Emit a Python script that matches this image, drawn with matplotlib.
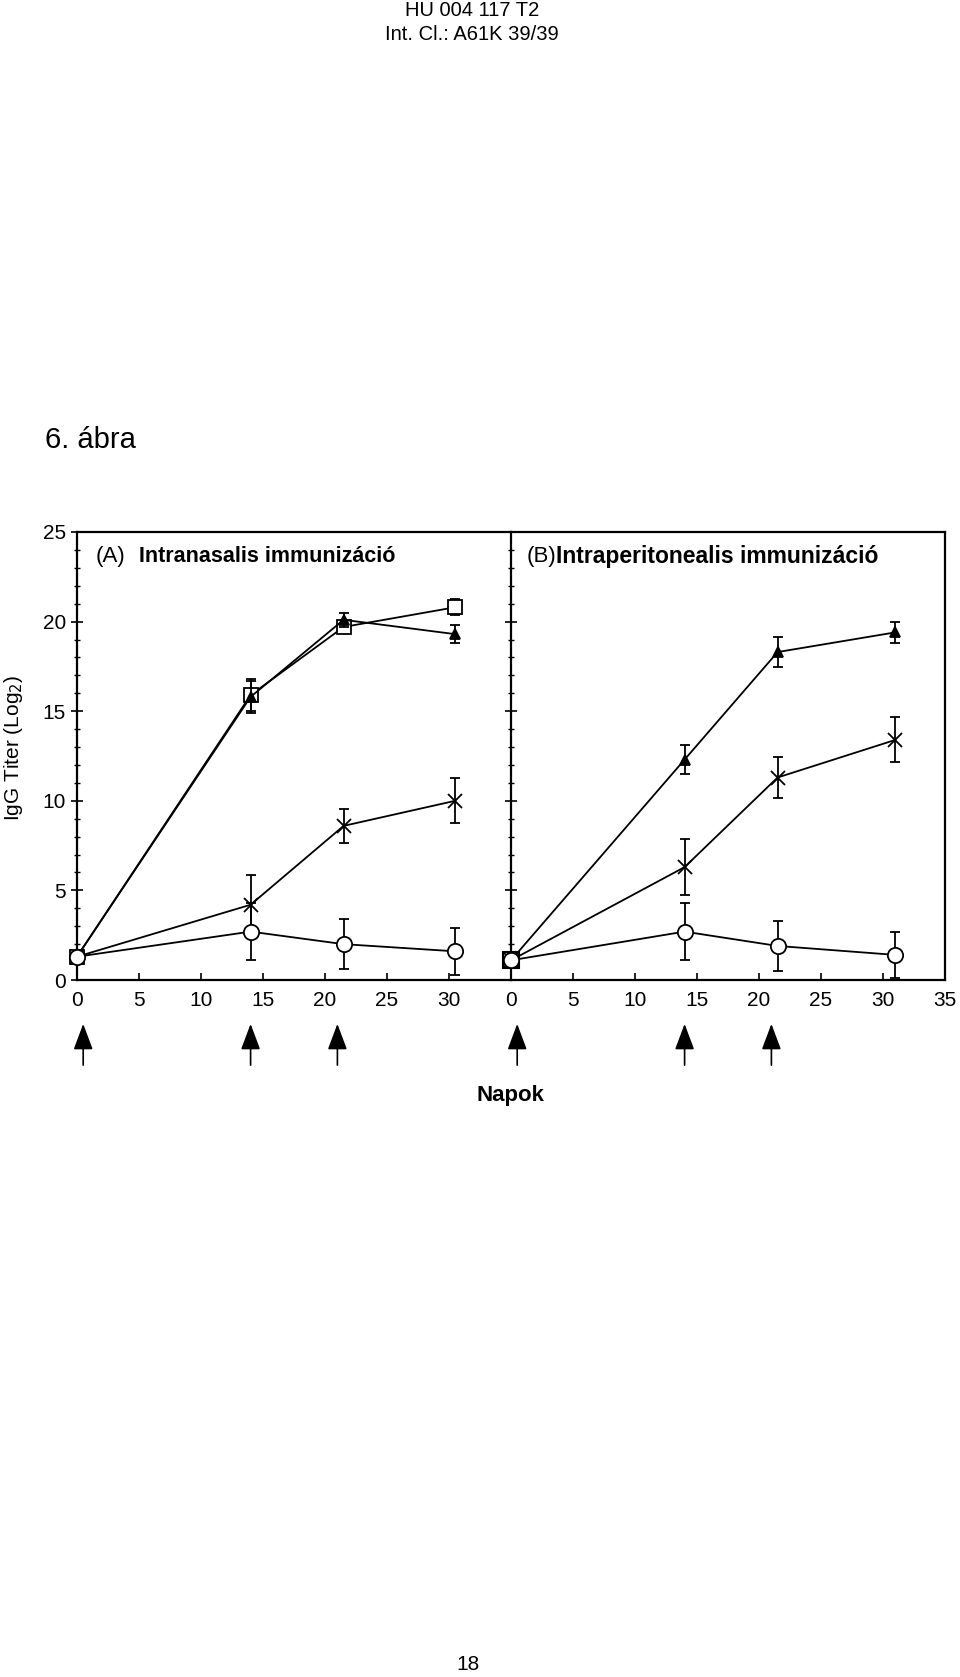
import numpy as np
import matplotlib.pyplot as plt
from matplotlib.ticker import MultipleLocator

plt.rcParams['font.family'] = ['Liberation Sans', 'DejaVu Sans']

# sampling days
days_a = [0, 14, 21.5, 30.5]
days_b = [0, 14, 21.5, 31]
booster_days = [0.5, 14, 21]

# (A) intranasal
tri_a = [1.3, 15.8, 20.1, 19.3]
tri_a_err = [0, 0.9, 0.4, 0.5]
sq_a = [1.3, 15.9, 19.7, 20.8]
sq_a_err = [0, 0.9, 0.3, 0.45]
x_a = [1.3, 4.2, 8.6, 10.0]
x_a_err = [0, 1.65, 0.95, 1.25]
circ_a = [1.3, 2.7, 2.0, 1.6]
circ_a_err = [0, 1.6, 1.4, 1.3]

# (B) intraperitoneal
tri_b = [1.1, 12.3, 18.3, 19.4]
tri_b_err = [0, 0.8, 0.85, 0.6]
sq_b = [1.1]
x_b = [1.1, 6.3, 11.3, 13.4]
x_b_err = [0, 1.55, 1.15, 1.25]
circ_b = [1.1, 2.7, 1.9, 1.4]
circ_b_err = [0, 1.6, 1.4, 1.3]

W, H = 960, 1677
fig = plt.figure(figsize=(W / 100, H / 100), dpi=100)

left, mid, right = 77, 511, 945
top, bottom = 532, 980
ax_a = fig.add_axes([left / W, 1 - bottom / H, (mid - left) / W, (bottom - top) / H])
ax_b = fig.add_axes([mid / W, 1 - bottom / H, (right - mid) / W, (bottom - top) / H])

ebkw = dict(color='black', lw=1.3, capsize=3.5, capthick=1.3, clip_on=False)


def series(ax, d, y, err, marker, ms, face, z):
    ax.errorbar(d, y, yerr=err, fmt='-', marker=marker, ms=ms, mfc=face, mec='black',
                mew=1.3, zorder=z, **ebkw)


series(ax_a, days_a, x_a, x_a_err, 'x', 10, 'black', 3)
series(ax_a, days_a, sq_a, sq_a_err, 's', 9.5, 'white', 3.1)
series(ax_a, days_a, tri_a, tri_a_err, '^', 7.5, 'black', 3.2)
series(ax_a, days_a, circ_a, circ_a_err, 'o', 11, 'white', 3.3)

ax_b.plot(days_b[:len(sq_b)], sq_b, 's', ms=11, mfc='white', mec='black', mew=1.5,
          clip_on=False, zorder=2)
series(ax_b, days_b, x_b, x_b_err, 'x', 10, 'black', 3)
series(ax_b, days_b, tri_b, tri_b_err, '^', 7.5, 'black', 3.1)
series(ax_b, days_b, circ_b, circ_b_err, 'o', 11, 'white', 3.3)

for ax in (ax_a, ax_b):
    ax.set_xlim(0, 35)
    ax.set_ylim(0, 25)
    for s in ax.spines.values():
        s.set_linewidth(1.6)
    ax.xaxis.set_major_locator(MultipleLocator(5))
    ax.yaxis.set_major_locator(MultipleLocator(5))
    ax.yaxis.set_minor_locator(MultipleLocator(1))
    ax.tick_params(axis='x', direction='in', length=5, width=1.2, labelsize=15, pad=8)
    ax.tick_params(axis='y', which='major', direction='inout', length=9, width=1.2, labelsize=15)
    ax.tick_params(axis='y', which='minor', direction='inout', length=5, width=1.0)
    for d in booster_days:
        ax.annotate('', xy=(d, -0.098), xytext=(d, -0.19),
                    xycoords=('data', 'axes fraction'), textcoords=('data', 'axes fraction'),
                    arrowprops=dict(arrowstyle='-|>,head_length=0.8,head_width=0.3',
                                    color='black', lw=1.2, mutation_scale=20,
                                    shrinkA=0, shrinkB=0),
                    annotation_clip=False)

ax_a.spines['right'].set_visible(False)
ax_a.set_xticks([0, 5, 10, 15, 20, 25, 30])
ax_a.set_yticks([0, 5, 10, 15, 20, 25])
ax_b.set_xticks([0, 5, 10, 15, 20, 25, 30, 35])
ax_b.tick_params(axis='y', labelleft=False)

ax_a.text(0.044, 0.946, '(A)', transform=ax_a.transAxes, fontsize=16, va='center')
ax_a.text(0.143, 0.946, 'Intranasalis immunizáció', transform=ax_a.transAxes,
          fontsize=15.5, fontweight='bold', va='center')
ax_b.text(0.037, 0.946, '(B)', transform=ax_b.transAxes, fontsize=16, va='center')
ax_b.text(0.104, 0.946, 'Intraperitonealis immunizáció', transform=ax_b.transAxes,
          fontsize=16.5, fontweight='bold', va='center')

fig.text(472 / W, 1 - 11 / H, 'HU 004 117 T2', ha='center', va='center', fontsize=14.5)
fig.text(472 / W, 1 - 35 / H, 'Int. Cl.: A61K 39/39', ha='center', va='center', fontsize=14.5)
fig.text(45 / W, 1 - 440 / H, '6. ábra', ha='left', va='center', fontsize=21)
fig.text(14 / W, 1 - 748 / H, 'IgG Titer (Log$_2$)', rotation=90, ha='center', va='center',
         fontsize=15)
fig.text(510 / W, 1 - 1096 / H, 'Napok', ha='center', va='center', fontsize=16,
         fontweight='bold')
fig.text(468 / W, 1 - 1665 / H, '18', ha='center', va='center', fontsize=15)

fig.savefig('out.png', dpi=100, facecolor='white')
